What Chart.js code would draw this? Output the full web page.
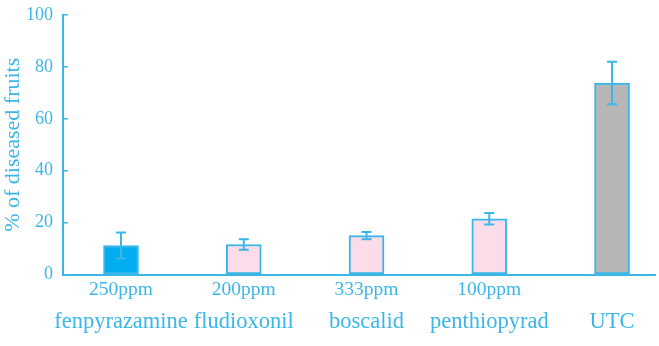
<!DOCTYPE html>
<html>
<head>
<meta charset="utf-8">
<script src="https://cdn.jsdelivr.net/npm/chart.js@4.4.1/dist/chart.umd.min.js"></script>
<style>
    body { margin: 0; background: #fff; }
    #wrap { width: 659px; height: 346px; position: relative; }
</style>
</head>
<body>
<div id="wrap"><canvas id="diseaseChart"></canvas></div>
<script>
const treatments = ['fenpyrazamine', 'fludioxonil', 'boscalid', 'penthiopyrad', 'UTC'];
const doses = ['250ppm', '200ppm', '333ppm', '100ppm', ''];
const diseased = [11.2, 11.6, 15.0, 21.5, 73.8];
const errors = [5.0, 2.0, 1.4, 2.2, 8.2];
const yTicks = [0, 20, 40, 60, 80, 100];

const barFills = ['#00aeef', '#fcdce8', '#fcdce8', '#fcdce8', '#b6b6b6'];
const ink = '#3ab6e8';
const serif = "'Liberation Serif', 'Times New Roman', serif";

// error bars drawn on top of the bars, positioned through the y scale
const errorBars = {
    id: 'errorBars',
    afterDatasetsDraw(chart) {
        const ctx = chart.ctx;
        const yScale = chart.scales.y;
        const meta = chart.getDatasetMeta(0);
        ctx.save();
        ctx.strokeStyle = ink;
        ctx.lineWidth = 2;
        meta.data.forEach((bar, i) => {
            const top = yScale.getPixelForValue(diseased[i] + errors[i]);
            const bottom = yScale.getPixelForValue(diseased[i] - errors[i]);
            const half = 5;
            ctx.beginPath();
            ctx.moveTo(bar.x, top);
            ctx.lineTo(bar.x, bottom);
            ctx.moveTo(bar.x - half, top);
            ctx.lineTo(bar.x + half, top);
            ctx.moveTo(bar.x - half, bottom);
            ctx.lineTo(bar.x + half, bottom);
            ctx.stroke();
        });
        ctx.restore();
    }
};

const categoryTicks = (scale) => {
    scale.ticks = treatments.map((t, i) => ({ value: i }));
};

// long labels would otherwise push the plot area to the right
const noSidePadding = (scale) => {
    scale.paddingLeft = 0;
    scale.paddingRight = 0;
};

new Chart(document.getElementById('diseaseChart'), {
    type: 'bar',
    data: {
        datasets: [{
            data: diseased.map((v, i) => ({ x: i, y: v })),
            backgroundColor: barFills,
            borderColor: ink,
            borderWidth: 2,
            borderSkipped: false,
            barThickness: 35
        }]
    },
    options: {
        responsive: true,
        maintainAspectRatio: false,
        animation: false,
        layout: { padding: { top: 0, right: 4, bottom: 7, left: 0 } },
        plugins: {
            legend: { display: false },
            tooltip: { enabled: false }
        },
        scales: {
            x: {
                type: 'linear',
                offset: false,
                min: -0.4725,
                max: 4.35,
                afterBuildTicks: categoryTicks,
                afterFit: noSidePadding,
                grid: { display: false, drawTicks: false, offset: false },
                border: { display: true, color: ink, width: 2 },
                ticks: {
                    padding: 4,
                    color: ink,
                    font: { family: serif, size: 19.5 },
                    maxRotation: 0,
                    autoSkip: false,
                    callback: (v) => doses[v]
                }
            },
            x2: {
                type: 'linear',
                position: 'bottom',
                offset: false,
                min: -0.4725,
                max: 4.35,
                afterBuildTicks: categoryTicks,
                afterFit: noSidePadding,
                grid: { display: false, drawTicks: false, offset: false },
                border: { display: false },
                ticks: {
                    padding: 3,
                    color: ink,
                    font: { family: serif, size: 22.5 },
                    maxRotation: 0,
                    autoSkip: false,
                    callback: (v) => treatments[v]
                }
            },
            y: {
                min: 0,
                max: 100,
                afterBuildTicks: (scale) => { scale.ticks = yTicks.map(v => ({ value: v })); },
                afterFit: (scale) => {
                    scale.width = 63;
                    scale.paddingTop = 15;
                    scale.paddingBottom = 0;
                },
                grid: { drawOnChartArea: false, color: ink, tickLength: -5, lineWidth: 1.5 },
                border: { display: true, color: ink, width: 2 },
                ticks: {
                    padding: 15,
                    color: ink,
                    font: { family: serif, size: 18 }
                },
                title: {
                    display: true,
                    text: '% of diseased fruits',
                    color: ink,
                    font: { family: serif, size: 22 },
                    padding: { top: 0, bottom: 0 }
                }
            }
        }
    },
    plugins: [errorBars]
});
</script>
</body>
</html>
